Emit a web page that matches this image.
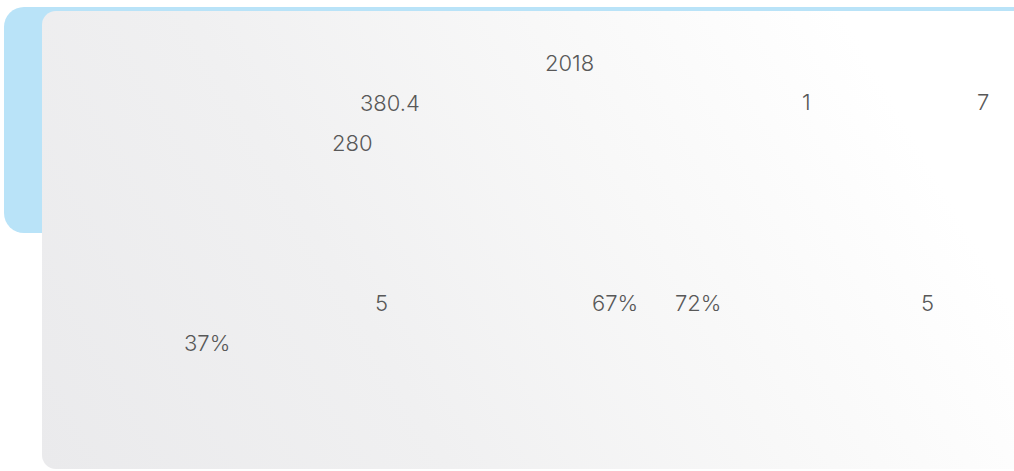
<!DOCTYPE html>
<html>
<head>
<meta charset="utf-8">
<script src="https://cdn.jsdelivr.net/npm/chart.js"></script>
<style>
  html, body { margin: 0; padding: 0; width: 1014px; height: 471px; overflow: hidden; background: #ffffff; }
  #strip { position: absolute; left: 24px; top: 7px; width: 1100px; height: 6px; background: #b9e3f8; }
  #tab { position: absolute; left: 4px; top: 7px; width: 200px; height: 226px; background: #b9e3f8; border-radius: 20px 0 0 20px; }
  #card { position: absolute; left: 42px; top: 11px; width: 1100px; height: 458px; border-radius: 14px;
          background: linear-gradient(60deg, #eaeaec 0%, #f0f0f1 30%, #f8f8f8 55%, #ffffff 78%); }
  .t { position: absolute; font-family: "Inter", "Noto Sans", sans-serif; font-weight: 300;
       font-size: 22px; line-height: 22px; color: #585858; white-space: pre; }
</style>
</head>
<body>
<div id="strip"></div>
<div id="tab"></div>
<div id="card"></div>
<div id="texts"></div>
<script>
// Visible text fragments (the surrounding CJK text of the reference renders blank)
const titleTexts = ["2018"];
const para1Texts = ["380.4", "1", "7", "280"];
const para2Texts = ["5", "67%", "72%", "5", "37%"];

// Layout (positions of each fragment, left / glyph top)
const layout = {
  title: [[545, 53]],
  para1: [[360, 93], [802, 92], [977, 92], [332, 133]],
  para2: [[375, 293], [592, 293], [675, 293], [921, 293], [184, 333]]
};

const host = document.getElementById('texts');
function place(texts, pos) {
  texts.forEach((s, i) => {
    const d = document.createElement('div');
    d.className = 't';
    d.textContent = s;
    d.style.left = pos[i][0] + 'px';
    d.style.top = (pos[i][1] - 1) + 'px';
    host.appendChild(d);
  });
}
place(titleTexts, layout.title);
place(para1Texts, layout.para1);
place(para2Texts, layout.para2);
</script>
</body>
</html>
